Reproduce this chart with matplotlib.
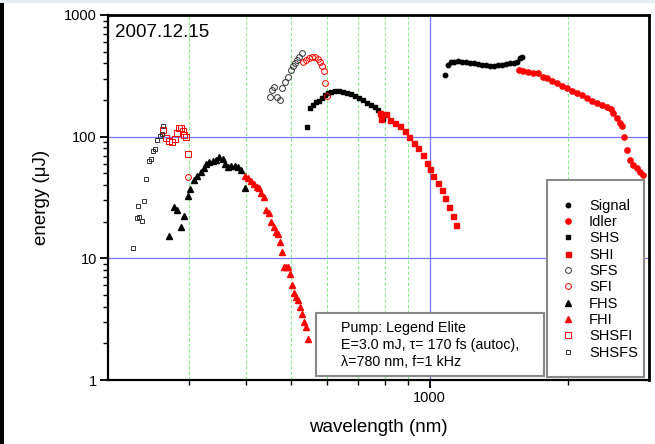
import numpy as np
import matplotlib
matplotlib.use("Agg")
import matplotlib.pyplot as plt
from matplotlib.patches import Rectangle
from matplotlib.ticker import FixedLocator, NullFormatter, FixedFormatter

plt.rcParams['font.family'] = ['Liberation Sans', 'DejaVu Sans']

# values (wavelength in nm, energy in uJ)
signal_wl = [1083, 1099, 1116, 1133, 1155, 1179, 1202, 1227, 1251, 1276, 1302,
             1328, 1355, 1382, 1410, 1439, 1468, 1497, 1527, 1550, 1574, 1590]
signal_e = [321, 388, 410, 410, 418, 410, 410, 403, 403, 395, 388,
            388, 380, 380, 388, 388, 395, 403, 403, 410, 442, 451]

idler_wl = [1566, 1598, 1637, 1679, 1722, 1765, 1801, 1846, 1893, 1941, 1990,
            2040, 2091, 2144, 2199, 2254, 2311, 2369, 2429, 2478, 2503, 2553,
            2592, 2618, 2644, 2684, 2725, 2766, 2821, 2864, 2907]
idler_e = [352, 346, 340, 333, 333, 309, 303, 286, 276, 260, 251,
           237, 228, 220, 207.5, 196, 189, 182, 175, 169, 156, 142,
           129, 122, 99.3, 77.6, 64.2, 58.4, 55.2, 51.2, 48.3]

shs_wl = [542, 550, 558, 567, 575, 584, 592, 602, 611, 623, 635, 648,
          661, 675, 688, 702, 716, 731, 745, 760, 772, 783, 791]
shs_e = [120, 172, 182, 192, 196, 207, 220, 228, 233, 237, 237, 233,
         228, 224, 216, 207, 200, 189, 182, 175, 165, 150, 139]

shi_wl = [783, 780, 803, 819, 840, 861, 883, 901, 923, 942, 966,
          985, 1000, 1020, 1041, 1062, 1083, 1105, 1127, 1144]
shi_e = [139, 156, 153, 137, 129, 122, 111, 99.3, 88.6, 80.5, 70.6,
         60.7, 54.2, 47.5, 41.6, 36.4, 31.3, 26.4, 22.3, 18.8]

sfs_wl = [450, 455, 460, 467, 473, 478, 486, 493, 500, 505, 510, 515, 521, 528]
sfs_e = [211, 241, 256, 211, 200, 251, 281, 309, 352, 380, 403, 426, 451, 486]

sfi_wl = [299, 531, 539, 547, 555, 564, 572, 578, 584, 590, 592, 598]
sfi_e = [46.6, 410, 426, 442, 451, 451, 434, 410, 380, 346, 276, 216]

fhs_wl = [272, 278, 283, 288, 293, 298, 302, 307, 313, 318, 323, 327,
          332, 339, 344, 349, 355, 360, 365, 371, 377, 384, 390, 398]
fhs_e = [15.3, 26.4, 24.9, 18.1, 22.3, 32.5, 37.1, 44.0, 47.5, 51.2, 55.2, 59.6,
         61.8, 63.0, 64.2, 68.0, 65.5, 59.6, 56.3, 57.3, 57.3, 56.3, 53.2, 37.8]

fhi_wl = [398, 404, 410, 416, 422, 426, 431, 437, 442, 448, 453, 460, 464, 469,
          473, 478, 483, 488, 493, 498, 503, 508, 513, 518, 523, 528, 534, 539, 544]
fhi_e = [47.5, 45.7, 43.2, 40.8, 38.5, 37.8, 34.4, 31.9, 24.9, 23.6, 19.9, 18.1,
         16.4, 15.8, 13.6, 11.3, 8.48, 8.48, 8.48, 7.43, 6.03, 5.19, 4.81, 4.54,
         3.98, 3.49, 3.00, 2.73, 2.17]

shsfi_wl = [264, 268, 272, 276, 279, 282, 285, 288, 291, 293, 295, 298]
shsfi_e = [113, 97.4, 92, 90.3, 95.5, 107, 118, 118, 111, 103, 99.3, 71.9]

shsfs_wl = [227, 231, 234, 237, 232, 240, 242, 245, 248, 250, 253, 256, 259, 262, 263]
shsfs_e = [12.2, 21.4, 21.9, 20.3, 26.9, 29.6, 44.8, 63.0, 65.5, 76.1, 79.1, 93.8, 101, 105, 122]

fig = plt.figure(figsize=(6.55, 4.44), dpi=100)
ax = fig.add_axes([108/655, 64/444, 541/655, 365/444])

red = '#ff0000'
ax.plot(signal_wl, signal_e, 'o', color='black', ms=3.2, mec='black', label='Signal', zorder=3)
ax.plot(idler_wl, idler_e, 'o', color=red, ms=3.8, mec=red, label='Idler', zorder=3)
ax.plot(shs_wl, shs_e, 's', color='black', ms=3.2, mec='black', label='SHS', zorder=3)
ax.plot(shi_wl, shi_e, 's', color=red, ms=3.6, mec=red, label='SHI', zorder=3)
ax.plot(sfs_wl, sfs_e, 'o', mfc='none', mec='#333333', ms=4.2, mew=0.7, label='SFS', zorder=3)
ax.plot(sfi_wl, sfi_e, 'o', mfc='none', mec=red, ms=4.2, mew=0.7, label='SFI', zorder=3)
ax.plot(fhs_wl, fhs_e, '^', color='black', ms=4.5, mec='black', label='FHS', zorder=3)
ax.plot(fhi_wl, fhi_e, '^', color=red, ms=4.8, mec=red, label='FHI', zorder=3)
ax.plot(shsfi_wl, shsfi_e, 's', mfc='none', mec=red, ms=3.8, mew=0.7, label='SHSFI', zorder=3)
ax.plot(shsfs_wl, shsfs_e, 's', mfc='none', mec='#333333', ms=3.5, mew=0.7, label='SHSFS', zorder=3)

ax.set_xscale('log')
ax.set_yscale('log')
ax.set_xlim(200, 3000)
ax.set_ylim(1, 1000)

# ticks
ax.xaxis.set_major_locator(FixedLocator([1000]))
ax.xaxis.set_major_formatter(FixedFormatter(['1000']))
ax.xaxis.set_minor_locator(FixedLocator([300, 400, 500, 600, 700, 800, 900, 2000]))
ax.xaxis.set_minor_formatter(NullFormatter())
ax.yaxis.set_major_locator(FixedLocator([1, 10, 100, 1000]))
ax.yaxis.set_major_formatter(FixedFormatter(['1', '10', '100', '1000']))
ax.yaxis.set_minor_locator(FixedLocator([m * 10**d for d in range(3) for m in range(2, 10)]))
ax.yaxis.set_minor_formatter(NullFormatter())
ax.tick_params(which='major', direction='out', length=6, width=1.3, labelsize=10.5, pad=2)
ax.tick_params(which='minor', direction='out', length=3.5, width=1.0)
ax.tick_params(top=False, right=False)

# grid
ax.grid(True, which='major', color='#7777ff', lw=0.9, ls='-', zorder=0)
ax.grid(True, which='minor', axis='x', color='#88ee88', lw=0.8, ls=(0, (3, 2)), zorder=0)
ax.set_axisbelow(True)
for s in ax.spines.values():
    s.set_linewidth(1.6)
ax.spines['top'].set_linewidth(2.0)
ax.spines['right'].set_linewidth(2.0)

ax.set_xlabel('wavelength (nm)', fontsize=13.5)
ax.set_ylabel('energy (\u03bcJ)', fontsize=13.5)
ax.xaxis.set_label_coords(0.5, -0.107)
ax.yaxis.set_label_coords(-0.108, 0.5)

ax.text(0.013, 0.951, '2007.12.15', transform=ax.transAxes, fontsize=13.5, va='center', ha='left')

# info box
ax.add_patch(Rectangle((0.3845, 0.011), 0.4214, 0.1726, transform=ax.transAxes,
                       fc='white', ec='#888888', lw=1.5, zorder=4))
info = ['Pump: Legend Elite', 'E=3.0 mJ, \u03c4= 170 fs (autoc),', '\u03bb=780 nm, f=1 kHz']
for i, line in enumerate(info):
    ax.text(0.4307, 0.1425 - i * 0.0466, line, transform=ax.transAxes,
            fontsize=10.3, va='center', ha='left', zorder=5)

# legend frame drawn by hand, legend itself without frame
ax.add_patch(Rectangle((0.811, 0.008), 0.18, 0.54, transform=ax.transAxes,
                       fc='white', ec='#888888', lw=1.5, zorder=5))
leg = ax.legend(loc='upper left', bbox_to_anchor=(0.8365, 0.4965), fontsize=10.5,
                frameon=False, borderpad=0, labelspacing=0.16, handlelength=1.0,
                handletextpad=0.95, borderaxespad=0)
leg.set_zorder(6)

# screenshot frame edges
fig.patches.append(Rectangle((0, 0), 4/655, 1, transform=fig.transFigure, fc='black', ec='none'))
fig.patches.append(Rectangle((0, 1 - 3/444), 1, 3/444, transform=fig.transFigure, fc='#e6ecef', ec='none'))

fig.savefig('out.png', dpi=100)
